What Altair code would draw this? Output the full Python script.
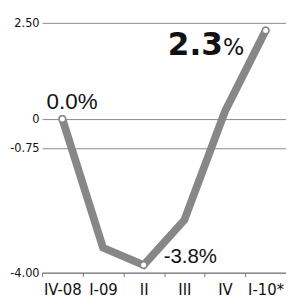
import altair as alt
import pandas as pd

categories = ["IV-08", "I-09", "II", "III", "IV", "I-10*"]
values = [0.0, -3.35, -3.8, -2.63, 0.2, 2.3]
y_ticks = [2.5, 0, -0.75, -4.0]
marked = ["IV-08", "II", "I-10*"]

df = pd.DataFrame({"q": categories, "v": values})
df["marked"] = df["q"].isin(marked)

narrow = "Liberation Sans Narrow, DejaVu Sans Condensed, sans-serif"

x = alt.X("q:N", sort=categories, title=None,
          scale=alt.Scale(paddingInner=0, paddingOuter=0),
          axis=alt.Axis(labelAngle=0, tickBand="extent", domainColor="#777",
                        tickColor="#777", tickSize=4, labelFontSize=17,
                        labelFont=narrow, labelColor="#111", labelPadding=5,
                        grid=False))
y = alt.Y("v:Q", title=None, scale=alt.Scale(domain=[-4, 2.5], nice=False, zero=False),
          axis=alt.Axis(values=y_ticks, domain=False, ticks=False, grid=True,
                        gridColor="#888", gridWidth=1,
                        labelExpr="datum.value == 0 ? '0' : replace(format(datum.value, '.2f'), '\u2212', '-')",
                        labelFontSize=13, labelColor="#111", labelPadding=3,
                        labelFont=narrow))

base = alt.Chart(df).encode(x=x, y=y)

line = base.mark_line(color="#878787", strokeWidth=8, strokeCap="round")
pts = base.transform_filter("datum.marked").mark_point(
    filled=True, fill="white", stroke="#878787", strokeWidth=1.5, size=45, opacity=1)

t0 = base.transform_filter("datum.q == 'IV-08'").mark_text(
    text="0.0%", fontSize=23, font="Liberation Sans", align="center",
    baseline="alphabetic", dx=10, dy=-10, color="#111")
t2 = base.transform_filter("datum.q == 'II'").mark_text(
    text="-3.8%", fontSize=21, font="Liberation Sans", align="center",
    baseline="alphabetic", dx=48, dy=-2, color="#111")
t5a = base.transform_filter("datum.q == 'I-10*'").mark_text(
    text="2.3", fontSize=32, fontWeight="bold", font="DejaVu Sans", align="right",
    baseline="alphabetic", dx=-44, dy=25, color="#111")
t5b = base.transform_filter("datum.q == 'I-10*'").mark_text(
    text="%", fontSize=23, font="DejaVu Sans", align="left",
    baseline="alphabetic", dx=-44, dy=25, color="#111")

chart = alt.layer(line, pts, t0, t2, t5a, t5b).properties(
    width=251, height=257,
    autosize=alt.AutoSizeParams(type="none"),
    padding={"left": 35, "top": 11, "right": 0, "bottom": 31},
    background="white",
).configure_view(stroke=None)

chart.save("out.html", embed_options={"renderer": "svg", "actions": False})
